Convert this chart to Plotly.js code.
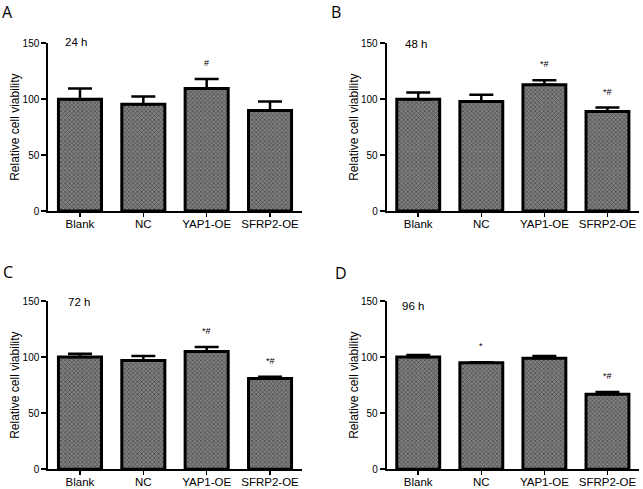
<!DOCTYPE html>
<html>
<head>
<meta charset="utf-8">
<script src="https://cdn.plot.ly/plotly-3.0.1.min.js"></script>
<style>
  html, body { margin: 0; padding: 0; background: #fff; }
  #chart { width: 643px; height: 489px; }
</style>
</head>
<body>
<div id="chart"></div>
<script>
// groups on the x axis
const categories = ['Blank', 'NC', 'YAP1-OE', 'SFRP2-OE'];

// relative cell viability (mean) and upper error
const viability24h = [100, 95.5, 109.5, 90];
const error24h = [9.5, 7, 8.5, 8];
const viability48h = [100, 98, 113, 89];
const error48h = [6, 6, 4, 3.5];
const viability72h = [100, 97, 105, 81];
const error72h = [3, 4, 4, 1.5];
const viability96h = [100, 95, 99, 67];
const error96h = [1.8, 0.5, 2, 2];

// significance marks above bars
const sig24h = ['', '', '#', ''];
const sig48h = ['', '', '*#', '*#'];
const sig72h = ['', '', '*#', '*#'];
const sig96h = ['', '*', '', '*#'];

const timeLabels = ['24 h', '48 h', '72 h', '96 h'];
const panelLetters = ['A', 'B', 'C', 'D'];
const yTicks = [0, 50, 100, 150];

const FONT = 'Liberation Sans, Arial, Helvetica, sans-serif';

const panels = [
  { means: viability24h, errs: error24h, sig: sig24h },
  { means: viability48h, errs: error48h, sig: sig48h },
  { means: viability72h, errs: error72h, sig: sig72h },
  { means: viability96h, errs: error96h, sig: sig96h }
];

// subplot boxes in paper fractions (643 x 489)
const W = 643, H = 489;
const xDomains = [[48.3 / W, 301.7 / W], [386.7 / W, 639 / W]];
const yDomains = [[1 - 211 / H, 1 - 43.3 / H], [1 - 469.3 / H, 1 - 301 / H]];

// where the time label (left edge, middle) and panel letter sit, in px
const timePos = [
  { x: 63, y: 42 }, { x: 403, y: 44 },
  { x: 66, y: 301.5 }, { x: 400, y: 305.5 }
];
const letterPos = [
  { x: 7.5, y: 12 }, { x: 336, y: 12 },
  { x: 8, y: 271.5 }, { x: 341, y: 272.5 }
];

const traces = [];
const layout = {
  width: W,
  height: H,
  margin: { l: 0, r: 0, t: 0, b: 0 },
  paper_bgcolor: '#ffffff',
  plot_bgcolor: '#ffffff',
  font: { family: FONT, color: '#000', size: 11 },
  showlegend: false,
  annotations: []
};

panels.forEach((p, i) => {
  const n = i + 1;
  const xa = n === 1 ? 'x' : 'x' + n;
  const ya = n === 1 ? 'y' : 'y' + n;
  const col = i % 2;
  const row = Math.floor(i / 2);

  traces.push({
    type: 'bar',
    x: categories,
    y: p.means,
    xaxis: xa,
    yaxis: ya,
    width: 0.68,
    marker: {
      color: '#808080',
      line: { color: '#000', width: 3 },
      pattern: { shape: 'x', size: 3, solidity: 0.4, fgcolor: '#111', fillmode: 'overlay' }
    },
    error_y: {
      type: 'data',
      symmetric: false,
      array: p.errs,
      arrayminus: p.errs.map(() => 0),
      color: '#000',
      thickness: 2.5,
      width: 12
    },
    hoverinfo: 'skip'
  });

  layout['xaxis' + (n === 1 ? '' : n)] = {
    domain: xDomains[col],
    anchor: ya,
    type: 'category',
    range: [-0.5, 3.5],
    showline: true,
    linecolor: '#000',
    linewidth: 2,
    ticks: 'outside',
    ticklen: 4,
    tickwidth: 1.5,
    tickcolor: '#000',
    ticklabelstandoff: -3,
    showgrid: false,
    zeroline: false,
    tickfont: { size: 11.5, family: FONT },
    fixedrange: true
  };
  layout['yaxis' + (n === 1 ? '' : n)] = {
    domain: yDomains[row],
    anchor: xa,
    range: [0, 150],
    tickvals: yTicks,
    showline: true,
    linecolor: '#000',
    linewidth: 2,
    ticks: 'outside',
    ticklen: 5,
    tickwidth: 2,
    tickcolor: '#000',
    showgrid: false,
    zeroline: false,
    tickfont: { size: 10, family: FONT },
    title: { text: 'Relative cell viability', font: { size: 12, family: FONT }, standoff: 0 },
    fixedrange: true
  };

  // significance marks
  p.sig.forEach((s, k) => {
    if (!s) return;
    layout.annotations.push({
      xref: xa, yref: ya,
      x: categories[k], y: p.means[k] + p.errs[k],
      yanchor: 'bottom', yshift: 9,
      text: s, showarrow: false,
      font: { size: 9, family: FONT, color: '#000' }
    });
  });

  // time label
  layout.annotations.push({
    xref: 'paper', yref: 'paper',
    x: timePos[i].x / W, y: 1 - timePos[i].y / H,
    xanchor: 'left', yanchor: 'middle',
    text: timeLabels[i], showarrow: false,
    font: { size: 11.5, family: FONT, color: '#000' }
  });

  // panel letter
  layout.annotations.push({
    xref: 'paper', yref: 'paper',
    x: letterPos[i].x / W, y: 1 - letterPos[i].y / H,
    xanchor: 'center', yanchor: 'middle',
    text: panelLetters[i], showarrow: false,
    font: { size: 16, family: 'Open Sans, Lato, sans-serif', color: '#000' }
  });
});

Plotly.newPlot('chart', traces, layout, { displayModeBar: false, staticPlot: true });
</script>
</body>
</html>
